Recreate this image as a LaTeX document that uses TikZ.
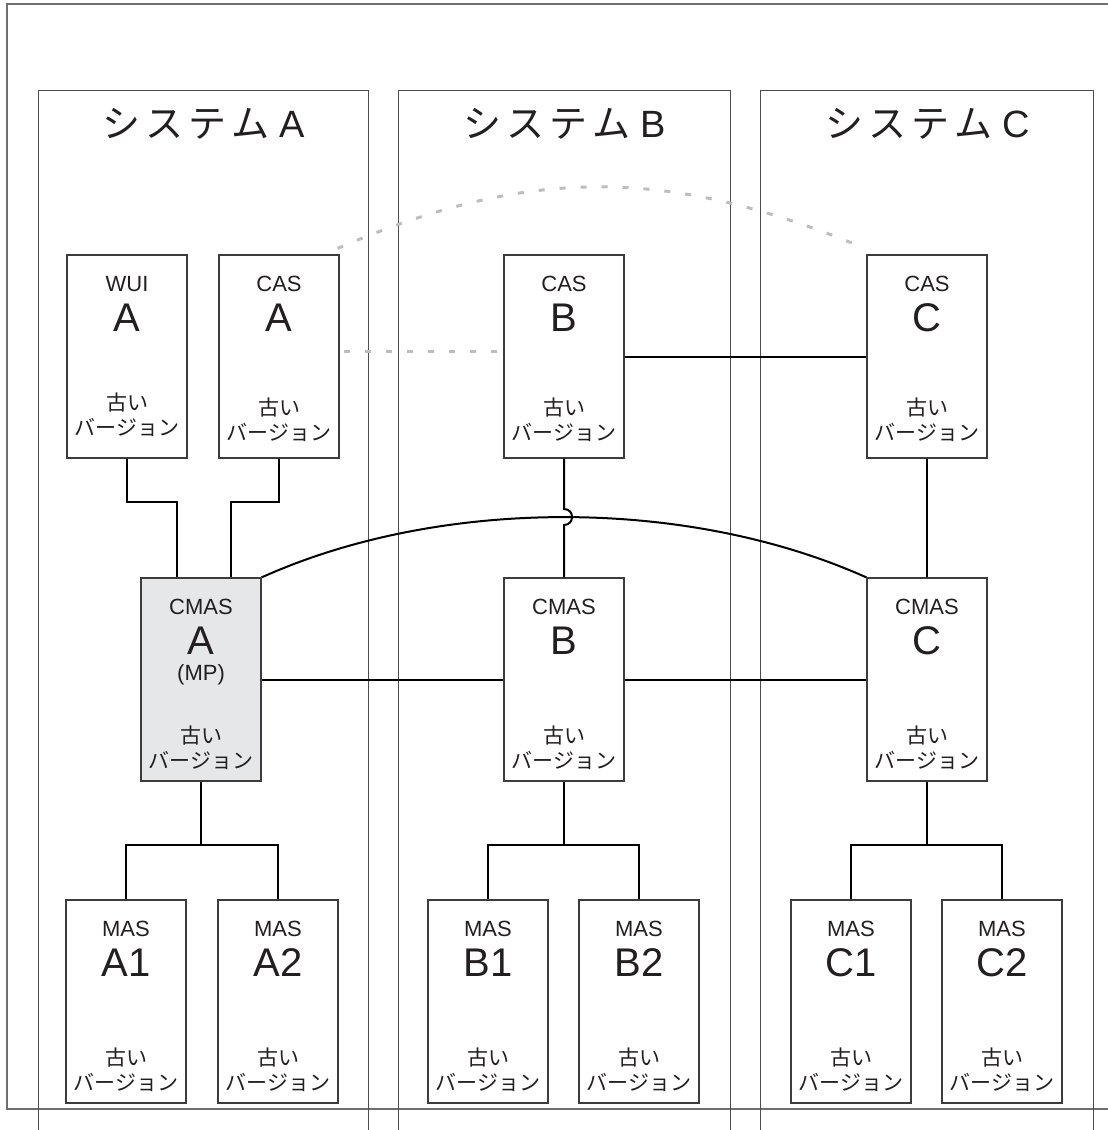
\documentclass[tikz,border=0pt]{standalone}
\usepackage{fontspec}
\setmainfont{Liberation Sans}
\newfontfamily\jpf{Noto Sans CJK JP}
\definecolor{frameg}{HTML}{6E6E6E}
\definecolor{colg}{HTML}{4D4D4D}
\definecolor{boxg}{HTML}{3C3C3C}
\definecolor{dashg}{HTML}{BDBDBD}
\definecolor{fillg}{HTML}{E6E7E8}
\definecolor{txt}{HTML}{231F20}
\newcommand\mkbox[7]{%
  \node[box,#7] (#1) at (#2,#3+101.5) {};
  \node[lbl] (#1l) at (#2,#3+29) {#4};
  \node[big] (#1b) at (#2,#3+63) {#5};
  \node[old] (#1o) at (#2,#3+#6) {古い};
  \node[old] (#1v) at (#2,#3+#6+24.5) {バージョン};
}
\begin{document}
\begin{tikzpicture}[x=1pt,y=-1pt,
  box/.style={draw=boxg,line width=1.2pt,fill=white,minimum width=120pt,minimum height=203pt,inner sep=0pt},
  lbl/.style={inner sep=0pt,text=txt,font=\fontsize{22}{25}\selectfont},
  big/.style={inner sep=0pt,text=txt,font=\fontsize{40}{44}\selectfont},
  old/.style={inner sep=0pt,text=txt,font=\jpf\fontsize{21}{25}\selectfont},
  ttl/.style={inner sep=0pt,text=txt,font=\fontsize{38}{42}\selectfont},
  conn/.style={draw=black,line width=2pt},
  colframe/.style={draw=colg,line width=1pt},
  outer/.style={draw=frameg,line width=1.5pt},
  dsh/.style={draw=dashg,line width=3pt,dash pattern=on 6pt off 15pt}]
\useasboundingbox (0,0) rectangle (1108,1130);
% outer frame
\draw[outer] (1108,4) -- (7,4) -- (7,1109) -- (1108,1109);
% system columns
\draw[colframe] (38,1130) -- (38,90) -- (368,90) -- (368,1130);
\draw[colframe] (398,1130) -- (398,90) -- (730,90) -- (730,1130);
\draw[colframe] (760,1130) -- (760,90) -- (1093,90) -- (1093,1130);
\node[ttl] (tA) at (204,124) {{\jpf シ\kern5pt ス\kern5pt テ\kern5pt ム}\kern10pt A};
\node[ttl] (tB) at (565,124) {{\jpf シ\kern5pt ス\kern5pt テ\kern5pt ム}\kern10pt B};
\node[ttl] (tC) at (928,124) {{\jpf シ\kern5pt ス\kern5pt テ\kern5pt ム}\kern10pt C};
% boxes
\mkbox{WUIA}{127}{255}{WUI}{A}{148}{}
\mkbox{CASA}{279}{255}{CAS}{A}{153}{}
\mkbox{CASB}{564}{255}{CAS}{B}{153}{}
\mkbox{CASC}{927}{255}{CAS}{C}{153}{}
\mkbox{CMASA}{201}{578}{CMAS}{A}{158}{fill=fillg}
\node[lbl] (CMASAmp) at (201,675) {(MP)};
\mkbox{CMASB}{564}{578}{CMAS}{B}{158}{}
\mkbox{CMASC}{927}{578}{CMAS}{C}{158}{}
\mkbox{MASA1}{126}{900}{MAS}{A1}{158}{}
\mkbox{MASA2}{278}{900}{MAS}{A2}{158}{}
\mkbox{MASB1}{488}{900}{MAS}{B1}{158}{}
\mkbox{MASB2}{639}{900}{MAS}{B2}{158}{}
\mkbox{MASC1}{851}{900}{MAS}{C1}{158}{}
\mkbox{MASC2}{1002}{900}{MAS}{C2}{158}{}
% dashed links
\draw[dsh] ([xshift=-2pt,yshift=6pt]CASA.north east) .. controls (527,167) and (665,167) .. ([xshift=-11pt,yshift=10pt]CASC.north west);
\draw[dsh] ([xshift=4pt,yshift=5.5pt]CASA.east) -- ([xshift=-3pt,yshift=5.5pt]CASB.west);
% connectors
\draw[conn] (WUIA.south) -- ++(0,43) -| ([xshift=-24pt]CMASA.north);
\draw[conn] (CASA.south) -- ++(0,43) -| ([xshift=30pt]CMASA.north);
\draw[conn] (CMASA.south) -- ++(0,63) coordinate (jA);
\draw[conn] (MASA1.north) |- (jA) -| (MASA2.north);
\draw[conn] (CMASB.south) -- ++(0,63) coordinate (jB);
\draw[conn] (MASB1.north) |- (jB) -| (MASB2.north);
\draw[conn] (CMASC.south) -- ++(0,63) coordinate (jC);
\draw[conn] (MASC1.north) |- (jC) -| (MASC2.north);
\draw[conn] (CASB.east) -- (CASC.west);
\draw[conn] (CASC.south) -- (CMASC.north);
\draw[conn] (CMASA.east) -- (CMASB.west);
\draw[conn] (CMASB.east) -- (CMASC.west);
\draw[conn] (CMASA.north east) .. controls (440,497) and (687,497) .. (CMASC.north west);
\coordinate (h1) at (564,509);
\coordinate (h2) at (564,525);
\draw[conn] (CASB.south) -- (h1) .. controls ([xshift=10.7pt]h1) and ([xshift=10.7pt]h2) .. (h2) -- (CMASB.north);
\end{tikzpicture}
\end{document}
